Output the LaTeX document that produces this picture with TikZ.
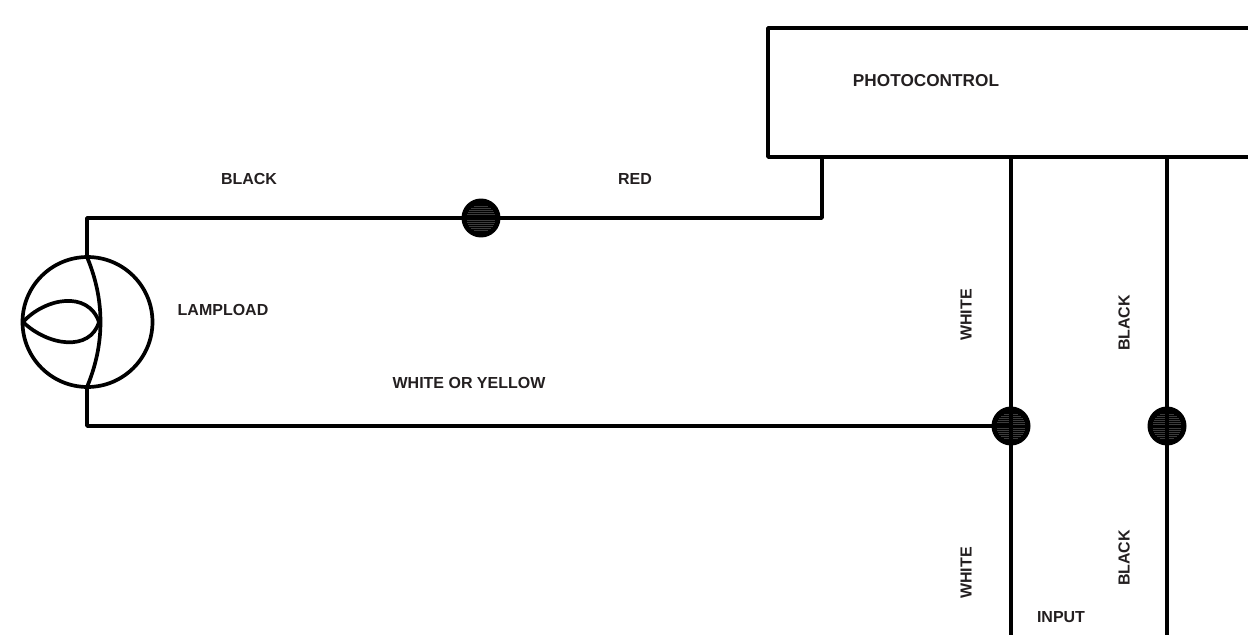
\documentclass[tikz,border=0pt]{standalone}
\usepackage{fontspec}
\setmainfont{Liberation Sans}
\usetikzlibrary{calc}

\definecolor{labelgray}{HTML}{231F20}
\definecolor{streakgray}{HTML}{3C3C3C}

\tikzset{
  wire/.style={line width=2.1pt,line join=round,line cap=round},
  label/.style={text=labelgray,font=\bfseries\fontsize{9.1pt}{11pt}\selectfont,inner sep=0pt},
  biglabel/.style={label,font=\bfseries\fontsize{9.8pt}{11pt}\selectfont},
  junction/.style={circle,fill=black,inner sep=0pt,minimum size=0.78cm,
    path picture={
      \foreach \streak in {-12,-10,-8,-6,-4,-2,2,4,6,8,10,12}
        \draw[streakgray,line width=0.55pt]
          ($(path picture bounding box.center)+({-0.02*sqrt(200-\streak*\streak)*1cm},{\streak*0.02cm})$) --
          ($(path picture bounding box.center)+({0.02*sqrt(200-\streak*\streak)*1cm},{\streak*0.02cm})$);
    }},
}

\begin{document}
\begin{tikzpicture}[x=0.02cm,y=-0.02cm]
    \useasboundingbox (0,0) rectangle (1248,635);

    \coordinate (boxTL) at (768,28);
    \coordinate (boxBL) at (768,157);
    \coordinate (boxTR) at (1248,28);
    \coordinate (boxBR) at (1248,157);
    \coordinate (redOut) at (822,157);
    \coordinate (redCorner) at (822,218);
    \coordinate (whiteOut) at (1011,157);
    \coordinate (blackOut) at (1167,157);
    \coordinate (whiteIn) at (1011,635);
    \coordinate (blackIn) at (1167,635);
    \coordinate (lampTop) at (87,257);
    \coordinate (lampBot) at (87,387);
    \coordinate (topCorner) at (87,218);
    \coordinate (botCorner) at (87,426);
    \coordinate (filL) at (23,322);
    \coordinate (filR) at (99,322);

    \node[junction] (Jred) at (481,218) {};
    \node[junction] (Jwhite) at (1011,426) {};
    \node[junction] (Jblack) at (1167,426) {};
    \node[circle,draw,wire,inner sep=0pt,minimum size=2.6cm] (lamp) at (87.5,322) {};

    \node[biglabel] (Lphoto) at (926,81) {PHOTOCONTROL};
    \node[label] (Lblack) at (249,179) {BLACK};
    \node[label] (Lred) at (635,179) {RED};
    \node[label] (Llamp) at (223,310) {LAMPLOAD};
    \node[label] (Lyellow) at (469,383) {WHITE OR YELLOW};
    \node[label,rotate=90] (LwhiteA) at (966,315) {WHITE};
    \node[label,rotate=90] (LblackA) at (1124,323) {BLACK};
    \node[label,rotate=90] (LwhiteB) at (966,573) {WHITE};
    \node[label,rotate=90] (LblackB) at (1124,558) {BLACK};
    \node[label] (Linput) at (1061,617) {INPUT};

    \draw[wire] (boxTR) -- (boxTL) -- (boxBL) -- (boxBR);
    \draw[wire] (redOut) -- (redCorner) -- (Jred.center);
    \draw[wire] (Jred.center) -- (topCorner) -- (lampTop);
    \draw[wire] (lampBot) -- (botCorner) -- (Jwhite.center);
    \draw[wire] (whiteOut) -- (whiteIn);
    \draw[wire] (blackOut) -- (blackIn);

    % filament
    \draw[wire] (lampTop) .. controls (105,300) and (105,344) .. (lampBot);
    \draw[wire] (filL) .. controls (45,298) and (88,290) .. (filR);
    \draw[wire] (filL) .. controls (48,346) and (90,352) .. (filR);
  \end{tikzpicture}
\end{document}
